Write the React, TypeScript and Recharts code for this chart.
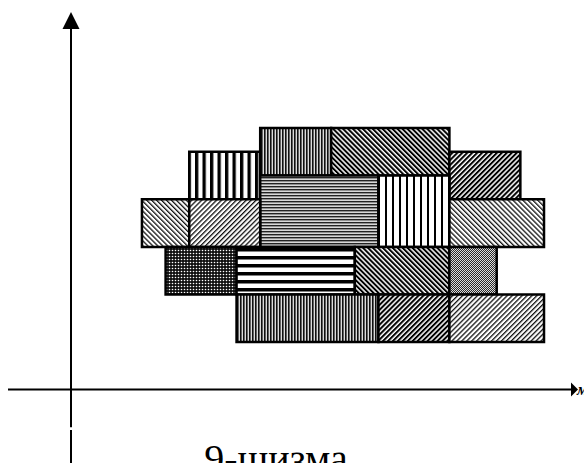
import {
  ComposedChart,
  ReferenceArea,
  ReferenceDot,
  ReferenceLine,
  XAxis,
  YAxis,
} from "recharts";

// blocks of the diagram, in axis units
const blockLeft = [8, 11, 5, 16, 8, 13, 3, 5, 16, 4, 7, 12, 16, 7, 13, 16];
const blockRight = [11, 16, 8, 19, 13, 16, 5, 8, 20, 7, 12, 16, 18, 13, 16, 20];
const blockBottom = [9, 9, 8, 8, 6, 6, 6, 6, 6, 4, 4, 4, 4, 2, 2, 2];
const blockTop = [11, 11, 10, 10, 9, 9, 8, 8, 8, 6, 6, 6, 6, 4, 4, 4];

const xRange = [-2.664, 21.226];
const yRange = [-3.087, 15.879];
const yAxisTop = 15.16;
const yGapTop = -1.58;
const yGapBottom = -1.7;

const captionText = "9-шизма";
const xAxisLetter = "м";

// hatch per block (style only)
const blockHatch = [
  "vFine", "backDense", "vBars", "fwdDense", "hFine", "vBarsThin",
  "backLight", "fwdLight", "backLight", "dots", "hThick", "backDense",
  "checker", "vFine", "fwdDense", "fwdLight",
];

const blocks = blockLeft.map((x1, i) => ({
  x1,
  x2: blockRight[i],
  y1: blockBottom[i],
  y2: blockTop[i],
}));

const UpArrow = (props: any) => {
  const { cx, cy } = props;
  return (
    <polygon
      points={`${cx},${cy} ${cx - 8.5},${cy + 17} ${cx + 8.5},${cy + 17}`}
      fill="#000"
    />
  );
};

const RightArrow = (props: any) => {
  const { cx, cy } = props;
  return (
    <g>
      <polygon
        points={`${cx - 2},${cy - 7} ${cx + 5},${cy} ${cx - 2},${cy + 7}`}
        fill="#000"
      />
      <text
        x={cx + 4}
        y={cy + 5}
        fontSize={16}
        fontStyle="italic"
        fontWeight="bold"
        fontFamily="'Liberation Serif', serif"
        fill="#000"
      >
        {xAxisLetter}
      </text>
    </g>
  );
};

function Hatches() {
  return (
    <defs>
      <pattern id="vFine" width="3" height="3" patternUnits="userSpaceOnUse">
        <rect width="3" height="3" fill="#dcdcdc" />
        <rect width="1.6" height="3" fill="#111" />
      </pattern>
      <pattern id="backDense" width="3.5" height="10" patternUnits="userSpaceOnUse" patternTransform="rotate(-45)">
        <rect width="3.5" height="10" fill="#fff" />
        <rect width="2" height="10" fill="#000" />
      </pattern>
      <pattern id="fwdDense" width="3.5" height="10" patternUnits="userSpaceOnUse" patternTransform="rotate(45)">
        <rect width="3.5" height="10" fill="#fff" />
        <rect width="2" height="10" fill="#000" />
      </pattern>
      <pattern id="backLight" width="3.5" height="10" patternUnits="userSpaceOnUse" patternTransform="rotate(-45)">
        <rect width="3.5" height="10" fill="#fff" />
        <rect width="1.3" height="10" fill="#111" />
      </pattern>
      <pattern id="fwdLight" width="3.5" height="10" patternUnits="userSpaceOnUse" patternTransform="rotate(45)">
        <rect width="3.5" height="10" fill="#fff" />
        <rect width="1.3" height="10" fill="#111" />
      </pattern>
      <pattern id="vBars" width="7.5" height="8" patternUnits="userSpaceOnUse">
        <rect width="7.5" height="8" fill="#fff" />
        <rect width="3.3" height="8" fill="#000" />
      </pattern>
      <pattern id="vBarsThin" width="7" height="8" patternUnits="userSpaceOnUse">
        <rect width="7" height="8" fill="#fff" />
        <rect width="2" height="8" fill="#000" />
      </pattern>
      <pattern id="hFine" width="4" height="3" patternUnits="userSpaceOnUse">
        <rect width="4" height="3" fill="#d8d8d8" />
        <rect width="4" height="1.4" fill="#222" />
      </pattern>
      <pattern id="hThick" width="8" height="8" patternUnits="userSpaceOnUse">
        <rect width="8" height="8" fill="#fff" />
        <rect width="8" height="3.5" fill="#000" />
      </pattern>
      <pattern id="dots" width="3" height="3" patternUnits="userSpaceOnUse">
        <rect width="3" height="3" fill="#111" />
        <circle cx="1.5" cy="1.5" r="0.8" fill="#fff" />
      </pattern>
      <pattern id="checker" width="2" height="2" patternUnits="userSpaceOnUse">
        <rect width="2" height="2" fill="#2a2a2a" />
        <rect width="1" height="1" fill="#ddd" />
        <rect x="1" y="1" width="1" height="1" fill="#ddd" />
      </pattern>
    </defs>
  );
}

export default function App() {
  return (
    <div style={{ position: "absolute", left: 0, top: 0, background: "#fff" }}>
      <ComposedChart
        width={584}
        height={463}
        margin={{ top: 12, right: 11, bottom: 0, left: 8 }}
      >
        <Hatches />
        <XAxis type="number" dataKey="x" domain={xRange} allowDataOverflow hide />
        <YAxis type="number" dataKey="y" domain={yRange} allowDataOverflow hide />
        <ReferenceLine y={0} stroke="#000" strokeWidth={2} />
        <ReferenceLine
          segment={[{ x: 0, y: yAxisTop }, { x: 0, y: yGapTop }]}
          stroke="#000"
          strokeWidth={2}
        />
        <ReferenceLine
          segment={[{ x: 0, y: yGapBottom }, { x: 0, y: yRange[0] }]}
          stroke="#000"
          strokeWidth={2}
        />
        <ReferenceDot x={0} y={yRange[1]} ifOverflow="visible" shape={<UpArrow />} />
        <ReferenceDot x={xRange[1]} y={0} ifOverflow="visible" shape={<RightArrow />} />
        {blocks.map((b, i) => (
          <ReferenceArea
            key={i}
            x1={b.x1}
            x2={b.x2}
            y1={b.y1}
            y2={b.y2}
            fill={`url(#${blockHatch[i]})`}
            fillOpacity={1}
            stroke="#000"
            strokeWidth={2.5}
          />
        ))}
        <text
          x={276}
          y={472}
          textAnchor="middle"
          fontSize={40}
          fontFamily="'Liberation Serif', 'Times New Roman', serif"
          fill="#000"
        >
          {captionText}
        </text>
      </ComposedChart>
    </div>
  );
}
